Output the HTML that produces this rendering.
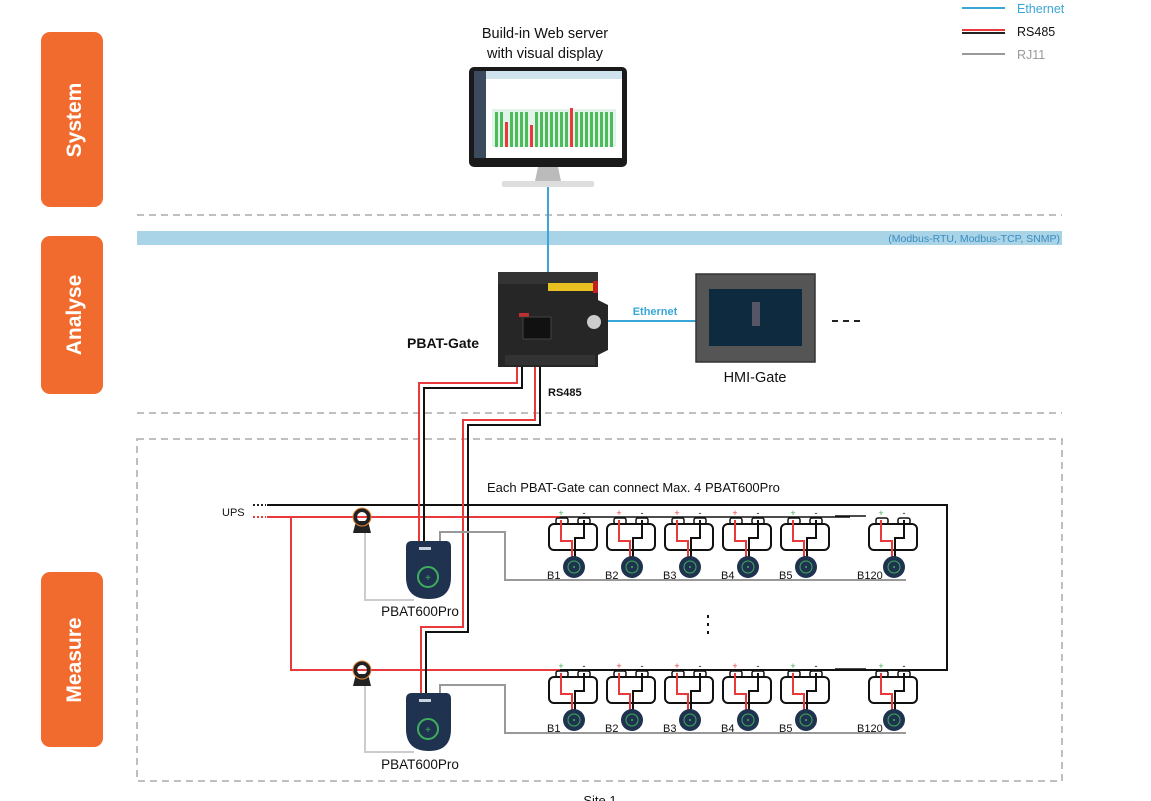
<!DOCTYPE html>
<html><head><meta charset="utf-8"><style>
html,body{margin:0;padding:0;background:#fff;width:1151px;height:801px;overflow:hidden}
svg{display:block;font-family:"Liberation Sans",Arial,sans-serif}
</style></head><body>
<svg width="1151" height="801" viewBox="0 0 1151 801" xmlns="http://www.w3.org/2000/svg">
<defs>
<g id="bat">
  <rect x="8" y="13" width="12" height="6" rx="2" fill="#fff" stroke="#111" stroke-width="1.5"/>
  <rect x="30" y="13" width="12" height="6" rx="2" fill="#fff" stroke="#111" stroke-width="1.5"/>
  <rect x="1" y="19" width="48" height="26" rx="5" fill="#fff" stroke="#111" stroke-width="2"/>
  <polyline points="13,15 13,36 24,36 24,52" fill="none" stroke="#e83a3a" stroke-width="2"/>
  <polyline points="36,15 36,33 27,33 27,52" fill="none" stroke="#111" stroke-width="2"/>
  <circle cx="26" cy="62" r="11" fill="#1f3350"/>
  <circle cx="26" cy="62" r="6" fill="none" stroke="#3fae5a" stroke-width="1"/>
  <circle cx="26" cy="62" r="1" fill="#3fae5a"/>
</g>
<g id="pbat">
  <path d="M2,6 Q2,0 8,0 L42,0 Q47,0 47,6 L47,36 Q47,58 25,58 Q2,58 2,36 Z" fill="#1f3350"/>
  <rect x="15" y="6" width="12" height="3" fill="#c9d3e0"/>
  <circle cx="24" cy="36" r="10" fill="none" stroke="#3fae5a" stroke-width="2"/>
  <text x="24" y="40" font-size="10" fill="#3fae5a" text-anchor="middle">+</text>
</g>
<g id="ct">
  <circle cx="0" cy="0" r="7" fill="none" stroke="#222" stroke-width="4"/>
  <path d="M-6,4 L-9,16 L9,16 L6,4 Z" fill="#222"/>
  <circle cx="0" cy="0" r="9" fill="none" stroke="#e8883a" stroke-width="1"/>
</g>
</defs>

<rect x="41" y="32" width="62" height="175" rx="9" fill="#f26b2e"/>
<rect x="41" y="236" width="62" height="158" rx="9" fill="#f26b2e"/>
<rect x="41" y="572" width="62" height="175" rx="9" fill="#f26b2e"/>
<text transform="translate(81,120) rotate(-90)" font-size="21" font-weight="bold" fill="#fff" text-anchor="middle">System</text>
<text transform="translate(81,315) rotate(-90)" font-size="21" font-weight="bold" fill="#fff" text-anchor="middle">Analyse</text>
<text transform="translate(81,660) rotate(-90)" font-size="21" font-weight="bold" fill="#fff" text-anchor="middle">Measure</text>

<line x1="962" y1="8" x2="1005" y2="8" stroke="#3aa6d8" stroke-width="2"/>
<text x="1017" y="13" font-size="12.5" fill="#3aa6d8">Ethernet</text>
<line x1="962" y1="30" x2="1005" y2="30" stroke="#e83a3a" stroke-width="2"/>
<line x1="962" y1="33" x2="1005" y2="33" stroke="#222" stroke-width="2"/>
<text x="1017" y="36" font-size="12.5" fill="#111">RS485</text>
<line x1="962" y1="54" x2="1005" y2="54" stroke="#999" stroke-width="2"/>
<text x="1017" y="59" font-size="12.5" fill="#999">RJ11</text>

<text x="545" y="38" font-size="14.5" text-anchor="middle" fill="#111">Build-in Web server</text>
<text x="545" y="58" font-size="14.5" text-anchor="middle" fill="#111">with visual display</text>

<rect x="469" y="67" width="158" height="100" rx="5" fill="#1a1a1a"/>
<rect x="474" y="71" width="148" height="87" fill="#fff"/>
<rect x="474" y="71" width="12" height="87" fill="#3b4a5c"/>
<rect x="486" y="71" width="136" height="8" fill="#cfe3ee"/>
<rect x="492" y="109" width="124" height="38" fill="#e4f3e9"/>
<g fill="#4cbb5a">
<rect x="495" y="112" width="3" height="35"/><rect x="500" y="112" width="3" height="35"/><rect x="510" y="112" width="3" height="35"/><rect x="515" y="112" width="3" height="35"/><rect x="520" y="112" width="3" height="35"/><rect x="525" y="112" width="3" height="35"/><rect x="535" y="112" width="3" height="35"/><rect x="540" y="112" width="3" height="35"/><rect x="545" y="112" width="3" height="35"/><rect x="550" y="112" width="3" height="35"/><rect x="555" y="112" width="3" height="35"/><rect x="560" y="112" width="3" height="35"/><rect x="565" y="112" width="3" height="35"/><rect x="575" y="112" width="3" height="35"/><rect x="580" y="112" width="3" height="35"/><rect x="585" y="112" width="3" height="35"/><rect x="590" y="112" width="3" height="35"/><rect x="595" y="112" width="3" height="35"/><rect x="600" y="112" width="3" height="35"/><rect x="605" y="112" width="3" height="35"/><rect x="610" y="112" width="3" height="35"/>
</g>
<g fill="#e83a3a"><rect x="505" y="122" width="3" height="25"/><rect x="530" y="125" width="3" height="22"/><rect x="570" y="108" width="3" height="39"/></g>
<path d="M538,167 L558,167 L561,181 L535,181 Z" fill="#bbb"/>
<rect x="502" y="181" width="92" height="6" rx="2" fill="#ddd"/>

<line x1="137" y1="215" x2="1062" y2="215" stroke="#aaa" stroke-width="1.5" stroke-dasharray="7,5"/>
<line x1="137" y1="413" x2="1062" y2="413" stroke="#aaa" stroke-width="1.5" stroke-dasharray="7,5"/>
<rect x="137" y="231" width="925" height="14" fill="#a9d3e6"/>
<text x="1060" y="242" font-size="10.5" fill="#3a8cc0" text-anchor="end">(Modbus-RTU, Modbus-TCP, SNMP)</text>

<line x1="548" y1="187" x2="548" y2="272" stroke="#3aa6d8" stroke-width="2"/>
<line x1="608" y1="321" x2="696" y2="321" stroke="#3aa6d8" stroke-width="2"/>
<text x="655" y="315" font-size="11" font-weight="bold" fill="#3aa6d8" text-anchor="middle">Ethernet</text>

<path d="M498,272 L595,272 L598,282 L598,300 L608,305 L608,350 L598,355 L598,367 L498,367 Z" fill="#262626"/>
<rect x="498" y="272" width="100" height="12" fill="#333"/>
<rect x="548" y="283" width="45" height="8" fill="#e8c020"/>
<rect x="593" y="281" width="5" height="12" fill="#c02020"/>
<rect x="519" y="313" width="10" height="4" fill="#c03030"/>
<rect x="523" y="317" width="28" height="22" fill="#111" stroke="#444"/>
<circle cx="594" cy="322" r="7" fill="#ccc"/>
<rect x="505" y="355" width="90" height="10" fill="#333"/>
<text x="407" y="348" font-size="14" font-weight="bold" fill="#111">PBAT-Gate</text>
<text x="548" y="396" font-size="11" font-weight="bold" fill="#111">RS485</text>

<rect x="696" y="274" width="119" height="88" fill="#555" stroke="#333" stroke-width="1.5"/>
<rect x="709" y="289" width="93" height="57" fill="#0e2a3e"/>
<rect x="752" y="302" width="8" height="24" fill="#556"/>
<text x="755" y="382" font-size="14.5" text-anchor="middle" fill="#111">HMI-Gate</text>
<line x1="832" y1="321" x2="864" y2="321" stroke="#222" stroke-width="2" stroke-dasharray="6,5"/>

<rect x="137" y="439" width="925" height="342" fill="none" stroke="#aaa" stroke-width="1.5" stroke-dasharray="7,5"/>
<text x="600" y="805" font-size="13" text-anchor="middle" fill="#111">Site 1</text>
<text x="487" y="492" font-size="13" fill="#111">Each PBAT-Gate can connect Max. 4 PBAT600Pro</text>

<text x="222" y="516" font-size="11" fill="#111">UPS</text>
<line x1="253" y1="505" x2="266" y2="505" stroke="#222" stroke-width="2" stroke-dasharray="2,2"/>
<line x1="253" y1="517" x2="266" y2="517" stroke="#e83a3a" stroke-width="2" stroke-dasharray="2,2"/>
<polyline points="267,505 947,505 947,670 835,670" fill="none" stroke="#111" stroke-width="2"/>
<line x1="538" y1="670" x2="835" y2="670" stroke="#111" stroke-width="2"/>
<line x1="835" y1="516" x2="866" y2="516" stroke="#111" stroke-width="1.5"/>
<line x1="835" y1="669" x2="866" y2="669" stroke="#111" stroke-width="1.5"/>
<line x1="267" y1="517" x2="560" y2="517" stroke="#e83a3a" stroke-width="2"/>
<polyline points="291,517 291,670 560,670" fill="none" stroke="#e83a3a" stroke-width="2"/>
<line x1="560" y1="517" x2="850" y2="517" stroke="#111" stroke-width="1.5"/>

<polyline points="517,367 517,383 419,383 419,542" fill="none" stroke="#e83a3a" stroke-width="2"/>
<polyline points="522,367 522,388 424,388 424,542" fill="none" stroke="#111" stroke-width="2"/>
<polyline points="535,367 535,420 463,420 463,627 421,627 421,695" fill="none" stroke="#e83a3a" stroke-width="2"/>
<polyline points="540,367 540,425 468,425 468,632 426,632 426,695" fill="none" stroke="#111" stroke-width="2"/>

<polyline points="365,527 365,600 414,600" fill="none" stroke="#ccc" stroke-width="2"/>
<polyline points="365,680 365,752 414,752" fill="none" stroke="#ccc" stroke-width="2"/>
<use href="#ct" x="362" y="517"/>
<use href="#ct" x="362" y="670"/>
<polyline points="440,545 440,532 505,532 505,580 906,580" fill="none" stroke="#999" stroke-width="2"/>
<polyline points="440,698 440,685 505,685 505,733 906,733" fill="none" stroke="#999" stroke-width="2"/>

<use href="#pbat" x="404" y="541"/>
<use href="#pbat" x="404" y="693"/>
<text x="420" y="616" font-size="13.5" text-anchor="middle" fill="#111">PBAT600Pro</text>
<text x="420" y="769" font-size="13.5" text-anchor="middle" fill="#111">PBAT600Pro</text>

<use href="#bat" x="548" y="505"/><use href="#bat" x="606" y="505"/><use href="#bat" x="664" y="505"/><use href="#bat" x="722" y="505"/><use href="#bat" x="780" y="505"/><use href="#bat" x="868" y="505"/>
<use href="#bat" x="548" y="658"/><use href="#bat" x="606" y="658"/><use href="#bat" x="664" y="658"/><use href="#bat" x="722" y="658"/><use href="#bat" x="780" y="658"/><use href="#bat" x="868" y="658"/>
<g font-size="9" text-anchor="middle">
<text x="561" y="516" fill="#3fae5a">+</text><text x="584" y="516">-</text>
<text x="619" y="516" fill="#e83a3a">+</text><text x="642" y="516">-</text>
<text x="677" y="516" fill="#e83a3a">+</text><text x="700" y="516">-</text>
<text x="735" y="516" fill="#e83a3a">+</text><text x="758" y="516">-</text>
<text x="793" y="516" fill="#3fae5a">+</text><text x="816" y="516">-</text>
<text x="881" y="516" fill="#3fae5a">+</text><text x="904" y="516">-</text>
<text x="561" y="669" fill="#3fae5a">+</text><text x="584" y="669">-</text>
<text x="619" y="669" fill="#e83a3a">+</text><text x="642" y="669">-</text>
<text x="677" y="669" fill="#e83a3a">+</text><text x="700" y="669">-</text>
<text x="735" y="669" fill="#e83a3a">+</text><text x="758" y="669">-</text>
<text x="793" y="669" fill="#3fae5a">+</text><text x="816" y="669">-</text>
<text x="881" y="669" fill="#3fae5a">+</text><text x="904" y="669">-</text>
</g>
<g font-size="11" fill="#111">
<text x="547" y="579">B1</text><text x="605" y="579">B2</text><text x="663" y="579">B3</text><text x="721" y="579">B4</text><text x="779" y="579">B5</text><text x="857" y="579">B120</text>
<text x="547" y="732">B1</text><text x="605" y="732">B2</text><text x="663" y="732">B3</text><text x="721" y="732">B4</text><text x="779" y="732">B5</text><text x="857" y="732">B120</text>
</g>
<g fill="#111"><rect x="707" y="615" width="2" height="3"/><rect x="707" y="623" width="2" height="3"/><rect x="707" y="631" width="2" height="3"/></g>
</svg>
</body></html>
